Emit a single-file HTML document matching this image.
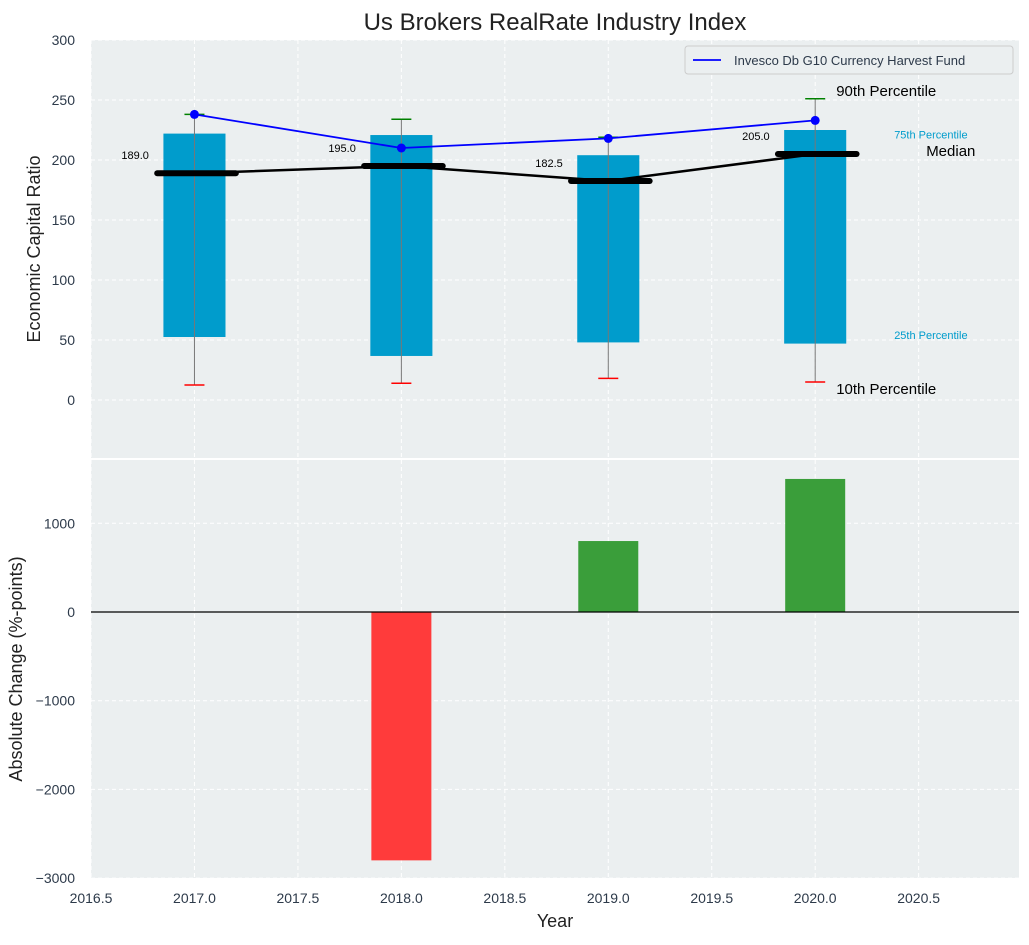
<!DOCTYPE html>
<html><head><meta charset="utf-8"><style>
body{margin:0;background:#fff}
svg{font-family:"Liberation Sans",sans-serif}
</style></head><body>
<svg id="c" width="1029" height="940"></svg>
<script>
const years=[2017,2018,2019,2020];
const p10=[12.5,14,18,15];
const p25=[52.5,36.7,48,47];
const p75=[222,220.8,204,225];
const p90=[238,234,219,251];
const medians=[189,195,182.5,205];
const fund=[238,210,218,233];
const changes=[0,-2800,800,1500];
const topTicks=[0,50,100,150,200,250,300];
const botTicks=[-3000,-2000,-1000,0,1000];
const xTicks=[2016.5,2017,2017.5,2018,2018.5,2019,2019.5,2020,2020.5];

const svg=document.getElementById('c');
const NS='http://www.w3.org/2000/svg';
function mk(t,a,p){const e=document.createElementNS(NS,t);for(const k in a)e.setAttribute(k,a[k]);(p||svg).appendChild(e);return e;}
const L=91,R=1019;
const X=v=>L+(v-2016.5)*(R-L)/(2020.985-2016.5);
const T0=40,T1=458,B0=460,B1=878;
const YT=v=>400-(v)*1.2;
const YB=v=>612-v*0.0887;

let e=mk('rect',{x:L,y:T0,width:R-L,height:T1-T0,fill:'#ebeff0'});

e=mk('rect',{x:L,y:B0,width:R-L,height:B1-B0,fill:'#ebeff0'});


xTicks.forEach(v=>{
 mk('line',{x1:X(v),x2:X(v),y1:T0,y2:T1,stroke:'#fff','stroke-dasharray':'4,3'});
 mk('line',{x1:X(v),x2:X(v),y1:B0,y2:B1,stroke:'#fff','stroke-dasharray':'4,3'});
 const t=mk('text',{x:X(v),y:B1+25,'text-anchor':'middle','font-size':14,fill:'#2d3a4a'});t.textContent=v.toFixed(1);
 
});
topTicks.forEach(v=>{
 mk('line',{x1:L,x2:R,y1:YT(v),y2:YT(v),stroke:'#fff','stroke-dasharray':'4,3'});
 const t=mk('text',{x:L-16,y:YT(v)+5,'text-anchor':'end','font-size':14,fill:'#2d3a4a'});t.textContent=v;
 
});
botTicks.forEach(v=>{
 mk('line',{x1:L,x2:R,y1:YB(v),y2:YB(v),stroke:'#fff','stroke-dasharray':'4,3'});
 const t=mk('text',{x:L-16,y:YB(v)+5,'text-anchor':'end','font-size':14,fill:'#2d3a4a'});t.textContent=v<0?'\u2212'+(-v):v;
 
});

years.forEach((y,i)=>{
 const b=mk('rect',{x:X(y-0.15),width:X(y+0.15)-X(y-0.15),y:YT(p75[i]),height:YT(p25[i])-YT(p75[i]),fill:'#009ccc'});
 
 const w=mk('line',{x1:X(y),x2:X(y),y1:YT(p10[i]),y2:YT(p90[i]),stroke:'#777','stroke-width':1});
 
 const lo=mk('line',{x1:X(y)-10,x2:X(y)+10,y1:YT(p10[i]),y2:YT(p10[i]),stroke:'red','stroke-width':1.5});
 
 const hi=mk('line',{x1:X(y)-10,x2:X(y)+10,y1:YT(p90[i]),y2:YT(p90[i]),stroke:'green','stroke-width':1.5});
 
});
let pts=years.map((y,i)=>X(y)+','+YT(medians[i])).join(' ');
e=mk('polyline',{points:pts,fill:'none',stroke:'#000','stroke-width':2.5});

years.forEach((y,i)=>{
 const m=mk('line',{x1:X(y-0.18),x2:X(y+0.2),y1:YT(medians[i]),y2:YT(medians[i]),stroke:'#000','stroke-width':6,'stroke-linecap':'round'});
 
 const t=mk('text',{x:X(y-0.22),y:YT(medians[i])-14,'text-anchor':'end','font-size':11,fill:'#000'});t.textContent=medians[i].toFixed(1);
 
});
pts=years.map((y,i)=>X(y)+','+YT(fund[i])).join(' ');
e=mk('polyline',{points:pts,fill:'none',stroke:'blue','stroke-width':1.8});

years.forEach((y,i)=>{const c=mk('circle',{cx:X(y),cy:YT(fund[i]),r:4.5,fill:'blue'});
 });

const li=3;
function ann(txt,v,dx,size,col,name){const t=mk('text',{x:X(years[li])+dx,y:YT(v)+5,'font-size':size,fill:col});t.textContent=txt;
 }
ann('90th Percentile',p90[li]+6.5,21,15,'#000','p90-annotation');
ann('75th Percentile',p75[li]-3,79,11,'#009ccc','p75-annotation');
ann('Median',medians[li]+2.5,111,15,'#000','median-annotation');
ann('25th Percentile',p25[li]+8,79,11,'#009ccc','p25-annotation');
ann('10th Percentile',p10[li]-6,21,15,'#000','p10-annotation');

const lg=mk('g',{});
mk('rect',{x:685,y:46,width:328,height:28,fill:'#ebeff0',stroke:'#ccc',rx:3},lg);
mk('line',{x1:693,x2:721,y1:60,y2:60,stroke:'blue','stroke-width':1.8},lg);
e=mk('text',{x:734,y:65,'font-size':13,fill:'#2d3a4a'},lg);e.textContent='Invesco Db G10 Currency Harvest Fund';


years.forEach((y,i)=>{
 const v=changes[i];
 const b=mk('rect',{x:X(y-0.145),width:X(y+0.145)-X(y-0.145),y:Math.min(YB(v),YB(0)),height:Math.abs(YB(v)-YB(0)),fill:v<0?'#ff3b3b':'#3a9e3a'});
 
});
e=mk('line',{x1:L,x2:R,y1:YB(0),y2:YB(0),stroke:'#000','stroke-width':1.2});


e=mk('text',{x:555,y:30,'text-anchor':'middle','font-size':24,fill:'#222'});e.textContent='Us Brokers RealRate Industry Index';

e=mk('text',{x:40,y:249,'text-anchor':'middle','font-size':18,fill:'#222',transform:'rotate(-90 40 249)'});e.textContent='Economic Capital Ratio';

e=mk('text',{x:22,y:669,'text-anchor':'middle','font-size':18,fill:'#222',transform:'rotate(-90 22 669)'});e.textContent='Absolute Change (%-points)';

e=mk('text',{x:555,y:927,'text-anchor':'middle','font-size':18,fill:'#222'});e.textContent='Year';

</script>
</body></html>
